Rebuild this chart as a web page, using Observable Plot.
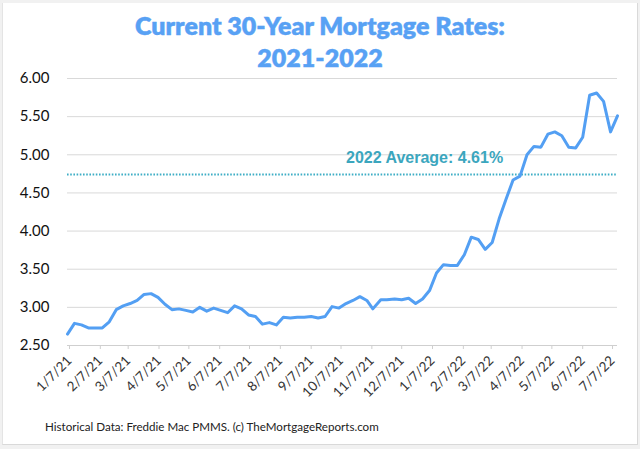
<!DOCTYPE html>
<html><head><meta charset="utf-8">
<script src="https://cdn.jsdelivr.net/npm/d3@7"></script>
<script src="https://cdn.jsdelivr.net/npm/@observablehq/plot@0.6"></script>
<style>
html,body{margin:0;padding:0;}
body{width:640px;height:449px;background:#f1f1f1;position:relative;overflow:hidden;font-family:Lato,"Open Sans",sans-serif;}
#frame{position:absolute;left:2px;top:3px;width:634px;height:441px;background:#fff;border-left:1px solid #e4e4e4;border-right:1px solid #d9d9d9;border-bottom:1px solid #d9d9d9;}
#title{position:absolute;left:0;top:10px;width:640px;text-align:center;color:#58a1f4;font-weight:800;font-size:25px;line-height:31.7px;-webkit-text-stroke:0.4px #58a1f4;}
#chart{position:absolute;left:0;top:0;}
#caption{position:absolute;left:45px;top:420px;font-size:11.6px;line-height:14px;color:#222;white-space:nowrap;}
</style>
</head><body>
<div id="frame"></div>
<div id="title">Current 30-Year Mortgage Rates:<br>2021-2022</div>
<div id="chart"></div>
<div id="caption">Historical Data: Freddie Mac PMMS. (c) TheMortgageReports.com</div>
<script>
const weekDates = [
  "2021-01-07","2021-01-14","2021-01-21","2021-01-28",
  "2021-02-04","2021-02-11","2021-02-18","2021-02-25",
  "2021-03-04","2021-03-11","2021-03-18","2021-03-25",
  "2021-04-01","2021-04-08","2021-04-15","2021-04-22","2021-04-29",
  "2021-05-06","2021-05-13","2021-05-20","2021-05-27",
  "2021-06-03","2021-06-10","2021-06-17","2021-06-24",
  "2021-07-01","2021-07-08","2021-07-15","2021-07-22","2021-07-29",
  "2021-08-05","2021-08-12","2021-08-19","2021-08-26",
  "2021-09-02","2021-09-09","2021-09-16","2021-09-23","2021-09-30",
  "2021-10-07","2021-10-14","2021-10-21","2021-10-28",
  "2021-11-04","2021-11-10","2021-11-18","2021-11-24",
  "2021-12-02","2021-12-09","2021-12-16","2021-12-23","2021-12-30",
  "2022-01-06","2022-01-13","2022-01-20","2022-01-27",
  "2022-02-03","2022-02-10","2022-02-17","2022-02-24",
  "2022-03-03","2022-03-10","2022-03-17","2022-03-24","2022-03-31",
  "2022-04-07","2022-04-14","2022-04-21","2022-04-28",
  "2022-05-05","2022-05-12","2022-05-19","2022-05-26",
  "2022-06-02","2022-06-09","2022-06-16","2022-06-23","2022-06-30",
  "2022-07-07","2022-07-14"
];
const rates = [
  2.65,2.79,2.77,2.73,
  2.73,2.73,2.81,2.97,
  3.02,3.05,3.09,3.17,
  3.18,3.13,3.04,2.97,2.98,
  2.96,2.94,3.00,2.95,
  2.99,2.96,2.93,3.02,
  2.98,2.90,2.88,2.78,2.80,
  2.77,2.87,2.86,2.87,
  2.87,2.88,2.86,2.88,3.01,
  2.99,3.05,3.09,3.14,
  3.09,2.98,3.10,3.10,
  3.11,3.10,3.12,3.05,3.11,
  3.22,3.45,3.56,3.55,
  3.55,3.69,3.92,3.89,
  3.76,3.85,4.16,4.42,4.67,
  4.72,5.00,5.11,5.10,
  5.27,5.30,5.25,5.10,
  5.09,5.23,5.78,5.81,5.70,
  5.30,5.51
];
const xTickLabels = ["2021-01-07","2021-02-07","2021-03-07","2021-04-07","2021-05-07","2021-06-07","2021-07-07","2021-08-07","2021-09-07","2021-10-07","2021-11-07","2021-12-07","2022-01-07","2022-02-07","2022-03-07","2022-04-07","2022-05-07","2022-06-07","2022-07-07"];
const yTicks = [2.5,3.0,3.5,4.0,4.5,5.0,5.5,6.0];
const avgLineLevel = [4.74];
const avgLabel = ["2022 Average: 4.61%"];
const avgLabelDate = ["2022-01-01"];

const data = weekDates.map((d, i) => ({date: new Date(d), rate: rates[i]}));
const xTicks = xTickLabels.map(d => new Date(d));
const fmt = d3.utcFormat("%-m/%-d/%y");

const chart = Plot.plot({
  width: 640, height: 449,
  marginTop: 78, marginBottom: 104, marginLeft: 67, marginRight: 23,
  style: {background: "transparent", fontFamily: "Lato, 'Open Sans', sans-serif", overflow: "visible"},
  x: {type: "utc", domain: [new Date(weekDates[0]), new Date(weekDates[weekDates.length - 1])]},
  y: {domain: [2.5, 6]},
  marks: [
    Plot.gridY(yTicks, {stroke: "#d9d9d9", strokeOpacity: 1}),
    Plot.ruleY([2.5], {stroke: "#cfcfcf"}),
    Plot.axisX(xTicks, {tickSize: 4, stroke: "#cfcfcf", fill: "#333", tickRotate: -45, tickPadding: 9, dx: 2, tickFormat: fmt, fontSize: 13.5, label: null}),
    Plot.axisY(yTicks, {tickSize: 0, tickPadding: 18, tickFormat: d3.format(".2f"), fontSize: 15, fill: "#111", label: null}),
    Plot.ruleY(avgLineLevel, {stroke: "#3eaec6", strokeWidth: 2, strokeDasharray: "1.6,1.6"}),
    Plot.text(avgLabel, {x: () => new Date(avgLabelDate[0]), y: () => avgLineLevel[0], text: d => d, textAnchor: "middle", lineAnchor: "bottom", dy: -11.6, fontSize: 16, fontWeight: "bold", fill: "#3ba6be", fontFamily: "'Liberation Sans', Arial, sans-serif"}),
    Plot.line(data, {x: "date", y: "rate", stroke: "#539ff3", strokeWidth: 3, strokeLinejoin: "round", strokeLinecap: "round"})
  ]
});
document.getElementById("chart").appendChild(chart);
</script>
</body></html>
